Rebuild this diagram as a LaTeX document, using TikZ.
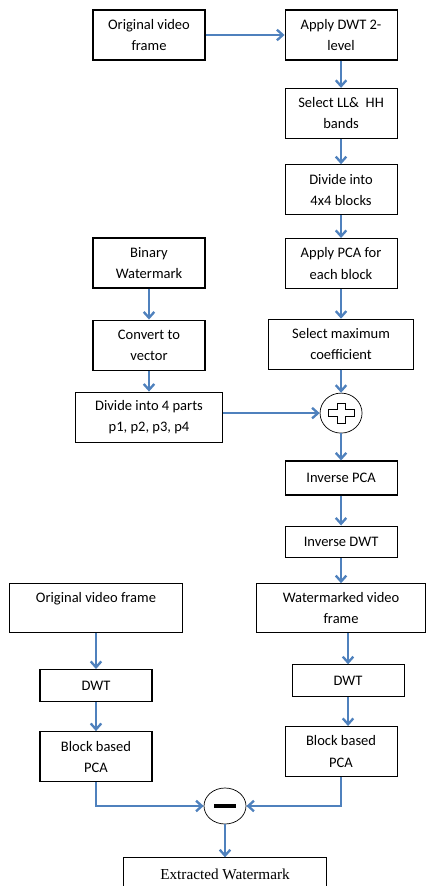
\documentclass[tikz,border=0pt]{standalone}
\usepackage{fontspec}
\setmainfont{Carlito}
\newfontfamily\timesfont{Liberation Serif}
\usepackage{tikz}
\usetikzlibrary{arrows.meta,positioning,calc,shapes.geometric}
\definecolor{flowblue}{RGB}{79,129,189}

\begin{document}
\begin{tikzpicture}[node distance=0.8cm]
    \tikzstyle{box}=[draw, line width=0.9pt, minimum width=3.36cm, minimum height=1.5cm, inner sep=0pt, align=center, font=\fontsize{12.4}{18}\selectfont]
    \tikzstyle{op}=[draw, ellipse, line width=0.6pt, minimum width=1.26cm, minimum height=1.2cm, inner sep=0pt]
    \tikzstyle{arr}=[draw=flowblue, line width=2pt, -{Straight Barb[length=5pt,width=9pt]}]
    \useasboundingbox (0,0) rectangle (12.78,-26.58);
    % embedding
    \node[box] (orig) at (4.47,-1.05) {Original video\\frame};
    \node[box, right=2.37cm of orig] (dwt2) {Apply DWT 2-\\level};
    \node[box, below=0.82cm of dwt2] (sel) {Select LL\& \ HH\\bands};
    \node[box, below=0.76cm of sel] (blk) {Divide into\\4x4 blocks};
    \node[box, below=0.68cm of blk] (pca) {Apply PCA for\\each block};
    \node[box, below=0.89cm of pca, minimum width=4.35cm] (maxc) {Select maximum\\coefficient};
    \node[box] (binwm) at (4.47,-7.89) {Binary\\Watermark};
    \node[box, below=0.93cm of binwm] (vec) {Convert to\\vector};
    \node[box, below=0.63cm of vec, minimum width=4.41cm] (parts) {Divide into 4 parts\\p1, p2, p3, p4};
    \node[op, below=0.69cm of maxc] (plus) {};
    \draw[line width=0.9pt] ($(plus.center)+(-0.39,0.1)$) -- ++(0.27,0) -- ++(0,0.2) -- ++(0.24,0) -- ++(0,-0.2)
        -- ++(0.27,0) -- ++(0,-0.2) -- ++(-0.27,0) -- ++(0,-0.2) -- ++(-0.24,0) -- ++(0,0.2) -- ++(-0.27,0) -- cycle;
    \node[box, below=0.81cm of plus, minimum height=1.02cm] (ipca) {Inverse PCA};
    \node[box, below=0.9cm of ipca, minimum height=0.95cm] (idwt) {Inverse DWT};
    \node[box, below=0.75cm of idwt, minimum width=5.07cm, minimum height=1.47cm] (wmf) {Watermarked video\\frame};
    % extraction
    \node[box, minimum width=5.19cm, minimum height=1.47cm] (origb) at (2.88,-18.24) {Original video frame\\\mbox{}};
    \node[box, below=1.08cm of origb, minimum height=0.96cm] (dwtl) {DWT};
    \node[box, below=0.87cm of dwtl] (bpcal) {Block based\\PCA};
    \node[box, below=0.93cm of wmf, xshift=0.21cm, minimum height=0.95cm] (dwtr) {DWT};
    \node[box, below=0.87cm of dwtr, xshift=-0.21cm] (bpcar) {Block based\\PCA};
    \node[op, minimum height=1.08cm] (minus) at (6.75,-24.18) {};
    \draw[line width=2.6pt] ($(minus.center)+(-0.33,0)$) -- ($(minus.center)+(0.33,0)$);
    \node[box, below=0.99cm of minus, minimum width=6.09cm, minimum height=1cm, font=\timesfont\fontsize{13}{15}\selectfont] (ext) {Extracted Watermark};
    % connectors
    \draw[arr] (orig) -- (dwt2);
    \draw[arr] (dwt2) -- (sel);
    \draw[arr] (sel) -- (blk);
    \draw[arr] (blk) -- (pca);
    \draw[arr] (pca) -- (maxc);
    \draw[arr] (maxc) -- (plus);
    \draw[arr] (binwm) -- (vec);
    \draw[arr] (vec) -- (parts);
    \draw[arr] (parts.east |- plus) -- (plus);
    \draw[arr] (plus) -- (ipca);
    \draw[arr] (ipca) -- (idwt);
    \draw[arr] (idwt) -- (wmf);
    \draw[arr] (wmf.south -| dwtr) -- (dwtr);
    \draw[arr] (dwtr) -- (dwtr |- bpcar.north);
    \draw[arr] (origb) -- (dwtl);
    \draw[arr] (dwtl) -- (bpcal);
    \draw[arr] (bpcal.south) |- (minus);
    \draw[arr] (bpcar.south) |- (minus);
    \draw[arr] (minus) -- (ext);
\end{tikzpicture}
\end{document}
